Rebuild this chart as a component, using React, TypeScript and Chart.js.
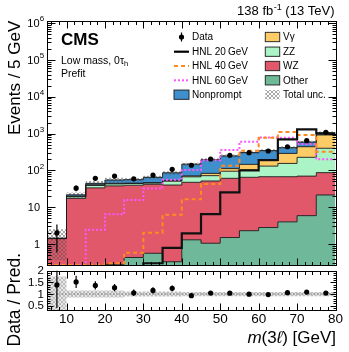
import React, { useEffect, useRef } from "react";
import { Chart, registerables } from "chart.js";

Chart.register(...registerables);

// ---- data: m(3l) bins, 5 GeV wide ----
const binLow = [5, 10, 15, 20, 25, 30, 35, 40, 45, 50, 55, 60, 65, 70, 75];
const binHigh = 80;
const binWidth = 5;

const dataObs = [2, 33, 61, 70, 59, 75, 107, 138, 204, 257, 303, 337, 440, 641, 1085];

// stacked backgrounds (bottom -> top)
const bkgOther = [0.05, 0.1, 0.15, 0.28, 0.43, 0.56, 0.33, 1.3, 1.05, 1.5, 2.3, 2.8, 4.0, 5.9, 21.5];
const bkgWZ = [1.35, 17.3, 33.4, 37.7, 39.1, 41.4, 39.7, 46.2, 50.5, 59.5, 62.7, 64.7, 63.5, 64.1, 65.5];
const bkgZZ = [0.01, 1.9, 5.5, 5.0, 4.5, 3.5, 11, 19.5, 20.5, 34, 38, 63.5, 87.5, 157, 313];
const bkgVgamma = [0.01, 0.5, 1.5, 1.5, 1.0, 1.0, 1.5, 4, 11, 17, 43, 52, 135, 213, 518];
const bkgNonprompt = [0.02, 1.9, 4.0, 10.5, 11, 18.5, 33.5, 77, 113, 136, 159, 162, 125, 150, 122];

// relative total uncertainty
const relUnc = [0.75, 0.15, 0.15, 0.15, 0.11, 0.11, 0.11, 0.09, 0.09, 0.09, 0.09, 0.09, 0.09, 0.09, 0.09];

// signals
const hnl20 = [0.1, 0.1, 0.1, 0.1, 0.1, 0.3, 0.79, 1.95, 6.5, 25.4, 100, 192, 700, 1300, 1010];
const hnl40 = [0.27, 0.27, 0.27, 0.3, 0.58, 2.03, 6.2, 16.4, 43, 133, 343, 770, 1100, 918, 320];
const hnl60 = [0.27, 0.27, 2.45, 6.45, 15.6, 32, 56, 102, 188, 358, 600, 780, 775, 520, 200];

// tick labels
const xTickLabels = [10, 20, 30, 40, 50, 60, 70, 80];
const yMainExponents = [0, 1, 2, 3, 4, 5, 6];
const ratioTickLabels = [0.5, 1, 1.5, 2];

// ---- styles ----
const FF = '"Liberation Sans", Arial, Helvetica, sans-serif';
const colOther = "#6fb99a";
const colWZ = "#e0586a";
const colZZ = "#aaf4c6";
const colVg = "#fecc66";
const colNP = "#3f8fcc";
const colH40 = "#ff8a1f";
const colH60 = "#ff55ff";
const edge = "rgba(25,25,25,0.9)";

const W = 349;
const H = 352;
const PL = 47.3;
const PR = 335.5;
const MT = 20.7;
const MB = 265.3;
const RT = 270.7;
const RB = 310.4;

const stepPts = (v: number[]) =>
  binLow.map((x, i) => ({ x, y: v[i] })).concat([{ x: binHigh, y: v[v.length - 1] }]);
const centers = binLow.map((x) => x + binWidth / 2);

function makeHatch(ctx: CanvasRenderingContext2D, bg: string | null, fg: string) {
  const c = document.createElement("canvas");
  c.width = 4;
  c.height = 4;
  const g = c.getContext("2d")!;
  if (bg) {
    g.fillStyle = bg;
    g.fillRect(0, 0, 4, 4);
  }
  g.fillStyle = fg;
  for (let i = 0; i < 4; i++) {
    g.fillRect(i, i, 1, 1);
    g.fillRect(3 - i, i, 1, 1);
  }
  return ctx.createPattern(c, "repeat")!;
}

function line(ctx: CanvasRenderingContext2D, x1: number, y1: number, x2: number, y2: number) {
  ctx.beginPath();
  ctx.moveTo(x1, y1);
  ctx.lineTo(x2, y2);
  ctx.stroke();
}

function drawRotated(ctx: CanvasRenderingContext2D, text: string, xb: number, yEnd: number, font: string) {
  ctx.save();
  ctx.translate(xb, yEnd);
  ctx.rotate(-Math.PI / 2);
  ctx.font = font;
  ctx.textAlign = "right";
  ctx.textBaseline = "alphabetic";
  ctx.fillStyle = "#000";
  ctx.fillText(text, 0, 0);
  ctx.restore();
}

function snap(v: number) {
  return Math.round(v) + 0.5;
}

export default function App() {
  const mainRef = useRef<HTMLCanvasElement>(null);
  const ratioRef = useRef<HTMLCanvasElement>(null);

  useEffect(() => {
    const mc = mainRef.current!;
    const rc = ratioRef.current!;
    const mctx = mc.getContext("2d")!;
    const rctx = rc.getContext("2d")!;
    const hatch = makeHatch(mctx, null, "rgba(80,80,80,0.5)");
    const hatchR = makeHatch(rctx, "rgba(200,200,200,0.45)", "rgba(140,140,140,0.45)");

    // cumulative stack table for the library
    const layers = [bkgOther, bkgWZ, bkgZZ, bkgVgamma, bkgNonprompt];
    const layerCols = [colOther, colWZ, colZZ, colVg, colNP];
    const cum: number[][] = [];
    layers.forEach((l, k) => {
      cum.push(l.map((v, i) => v + (k > 0 ? cum[k - 1][i] : 0)));
    });
    const total = cum[cum.length - 1];
    const uncLo = total.map((t, i) => t * (1 - relUnc[i]));
    const uncHi = total.map((t, i) => t * (1 + relUnc[i]));

    const stackSets: any[] = cum.map((c, k) => ({
      label: "stack" + k,
      data: stepPts(c),
      stepped: "before",
      borderColor: edge,
      borderWidth: 1,
      backgroundColor: layerCols[k],
      fill: k === 0 ? "start" : k - 1,
      pointRadius: 0,
      order: 15 - k,
    }));

    const mainDecor = {
      id: "mainDecor",
      afterDatasetsDraw(chart: any) {
        const { ctx, chartArea: a, scales } = chart;
        const x = scales.x;
        const y = scales.y;
        ctx.save();
        ctx.beginPath();
        ctx.rect(a.left, a.top, a.right - a.left, a.bottom - a.top);
        ctx.clip();
        ctx.strokeStyle = "#000";
        ctx.lineWidth = 1.2;
        dataObs.forEach((n, i) => {
          const e = Math.sqrt(n);
          const px = x.getPixelForValue(centers[i]);
          const lo = Math.max(n - e, y.min);
          line(ctx, px, y.getPixelForValue(lo), px, y.getPixelForValue(n + e));
        });
        ctx.restore();
      },
      afterDraw(chart: any) {
        const { ctx, chartArea: a, scales } = chart;
        const x = scales.x;
        const y = scales.y;
        ctx.save();
        ctx.strokeStyle = "#000";
        ctx.lineWidth = 1;
        const L = snap(a.left);
        const R = snap(a.right);
        const T = snap(a.top);
        const B = snap(a.bottom);
        ctx.strokeRect(L, T, R - L, B - T);
        // y ticks (log)
        for (let e = -1; e <= 6; e++) {
          for (let m = 1; m <= 9; m++) {
            const v = m * Math.pow(10, e);
            if (v < y.min || v > y.max) continue;
            const py = snap(y.getPixelForValue(v));
            const len = m === 1 ? 8 : 4;
            line(ctx, L, py, L + len, py);
            line(ctx, R, py, R - len, py);
          }
        }
        // x ticks
        for (let g = 6; g <= 80; g += 2) {
          const px = snap(x.getPixelForValue(g));
          const len = g % 10 === 0 ? 7 : 3.5;
          line(ctx, px, B, px, B - len);
          line(ctx, px, T, px, T + len);
        }
        // y labels
        ctx.fillStyle = "#000";
        ctx.textBaseline = "middle";
        yMainExponents.forEach((ex) => {
          const py = y.getPixelForValue(Math.pow(10, ex)) + 0.5;
          if (ex <= 1) {
            ctx.font = `11px ${FF}`;
            ctx.textAlign = "right";
            ctx.fillText(ex === 0 ? "1" : "10", 40, py);
          } else {
            ctx.font = `11px ${FF}`;
            ctx.textAlign = "right";
            ctx.fillText("10", 39.5, py);
            ctx.font = `8px ${FF}`;
            ctx.textAlign = "left";
            ctx.fillText(String(ex), 39.8, py - 4.5);
          }
        });
        // y title
        drawRotated(ctx, "Events / 5 GeV", 20, a.top, `17px ${FF}`);
        // lumi
        ctx.textBaseline = "alphabetic";
        ctx.textAlign = "left";
        const f13 = `13px ${FF}`;
        const f9 = `9px ${FF}`;
        ctx.font = f13;
        const t1 = "138 fb";
        const t3 = " (13 TeV)";
        const w1 = ctx.measureText(t1).width;
        const w3 = ctx.measureText(t3).width;
        ctx.font = f9;
        const t2 = "-1";
        const w2 = ctx.measureText(t2).width;
        let sx = 334 - (w1 + w2 + w3);
        ctx.font = f13;
        ctx.fillText(t1, sx, 15);
        ctx.font = f9;
        ctx.fillText(t2, sx + w1 + 0.5, 9.5);
        ctx.font = f13;
        ctx.fillText(t3, sx + w1 + w2 + 0.5, 15);
        // CMS
        ctx.font = `bold 17px ${FF}`;
        ctx.fillText("CMS", 61, 45);
        ctx.font = `10.5px ${FF}`;
        const lm = "Low mass, 0\u03c4";
        ctx.fillText(lm, 61, 63.5);
        const lmw = ctx.measureText(lm).width;
        ctx.font = `7.5px ${FF}`;
        ctx.fillText("h", 61 + lmw, 66);
        ctx.font = `10.5px ${FF}`;
        ctx.fillText("Prefit", 61, 77.3);

        // legend
        const rows = [37, 51.7, 66, 80.3, 94.7];
        const c1a = 174,
          c1b = 189,
          c1t = 192;
        const c2a = 265.3,
          c2b = 279.7,
          c2t = 283;
        const bh = 9.3;
        ctx.font = `10px ${FF}`;
        ctx.textBaseline = "middle";
        const text = (s: string, tx: number, ty: number) => {
          ctx.fillStyle = "#000";
          ctx.fillText(s, tx, ty + 0.5);
        };
        // Data
        ctx.strokeStyle = "#000";
        ctx.lineWidth = 1.2;
        line(ctx, 181.5, rows[0] - 4.5, 181.5, rows[0] + 4.5);
        ctx.beginPath();
        ctx.arc(181.5, rows[0], 2.6, 0, Math.PI * 2);
        ctx.fillStyle = "#000";
        ctx.fill();
        text("Data", c1t, rows[0]);
        // HNL lines
        const hl = (r: number, col: string, dash: number[], lw: number, label: string) => {
          ctx.save();
          ctx.strokeStyle = col;
          ctx.lineWidth = lw;
          ctx.setLineDash(dash);
          line(ctx, c1a, rows[r], c1b, rows[r]);
          ctx.restore();
          text(label, c1t, rows[r]);
        };
        hl(1, "#000", [], 2.2, "HNL 20\u2009GeV");
        hl(2, colH40, [4, 3], 2, "HNL 40\u2009GeV");
        hl(3, colH60, [2, 2], 2, "HNL 60\u2009GeV");
        const box = (bx0: number, bx1: number, r: number, col: any, border: boolean) => {
          ctx.fillStyle = col;
          ctx.fillRect(bx0, rows[r] - bh / 2, bx1 - bx0, bh);
          if (border) {
            ctx.strokeStyle = edge;
            ctx.lineWidth = 1;
            ctx.strokeRect(bx0, rows[r] - bh / 2, bx1 - bx0, bh);
          }
        };
        box(c1a, c1b, 4, colNP, true);
        text("Nonprompt", c1t, rows[4]);
        box(c2a, c2b, 0, colVg, true);
        text("V\u03b3", c2t, rows[0]);
        box(c2a, c2b, 1, colZZ, true);
        text("ZZ", c2t, rows[1]);
        box(c2a, c2b, 2, colWZ, true);
        text("WZ", c2t, rows[2]);
        box(c2a, c2b, 3, colOther, true);
        text("Other", c2t, rows[3]);
        box(c2a, c2b, 4, hatch, false);
        text("Total unc.", c2t, rows[4]);
        ctx.restore();
      },
    };

    const main = new Chart(mc, {
      type: "line",
      data: {
        datasets: [
          ...stackSets,
          {
            label: "uncLo",
            data: stepPts(uncLo),
            stepped: "before",
            borderWidth: 0,
            borderColor: "rgba(0,0,0,0)",
            fill: false,
            pointRadius: 0,
            order: 6,
          },
          {
            label: "uncHi",
            data: stepPts(uncHi),
            stepped: "before",
            borderWidth: 0,
            borderColor: "rgba(0,0,0,0)",
            backgroundColor: hatch,
            fill: 5,
            pointRadius: 0,
            order: 5,
          },
          {
            label: "HNL 20 GeV",
            data: stepPts(hnl20),
            stepped: "before",
            borderColor: "#111",
            borderWidth: 2.2,
            fill: false,
            pointRadius: 0,
            order: 2,
          },
          {
            label: "HNL 40 GeV",
            data: stepPts(hnl40),
            stepped: "before",
            borderColor: colH40,
            borderDash: [4, 3],
            borderWidth: 2,
            fill: false,
            pointRadius: 0,
            order: 2,
          },
          {
            label: "HNL 60 GeV",
            data: stepPts(hnl60),
            stepped: "before",
            borderColor: colH60,
            borderDash: [2, 2],
            borderWidth: 2,
            fill: false,
            pointRadius: 0,
            order: 2,
          },
          {
            label: "Data",
            data: centers.map((x, i) => ({ x, y: dataObs[i] })),
            showLine: false,
            pointRadius: 2.6,
            pointBackgroundColor: "#000",
            pointBorderWidth: 0,
            order: 1,
          },
        ],
      },
      options: {
        animation: false,
        responsive: false,
        devicePixelRatio: 1,
        events: [],
        layout: { padding: { left: PL, right: W - PR, top: MT, bottom: H - MB } },
        plugins: {
          legend: { display: false },
          tooltip: { enabled: false },
          filler: { drawTime: "beforeDatasetsDraw" },
        },
        scales: {
          x: { type: "linear", min: 5, max: 80, display: false },
          y: { type: "logarithmic", min: 0.264, max: 1.17e6, display: false },
        },
      } as any,
      plugins: [mainDecor],
    });

    // ---- ratio panel ----
    const ratio = dataObs.map((n, i) => n / total[i]);
    const ratioErr = dataObs.map((n, i) => Math.sqrt(n) / total[i]);

    const ratioDecor = {
      id: "ratioDecor",
      afterDatasetsDraw(chart: any) {
        const { ctx, chartArea: a, scales } = chart;
        const x = scales.x;
        const y = scales.y;
        ctx.save();
        ctx.beginPath();
        ctx.rect(a.left, a.top, a.right - a.left, a.bottom - a.top);
        ctx.clip();
        ctx.strokeStyle = "#000";
        ctx.lineWidth = 1.2;
        ratio.forEach((r, i) => {
          const px = x.getPixelForValue(centers[i]);
          line(ctx, px, y.getPixelForValue(r - ratioErr[i]), px, y.getPixelForValue(r + ratioErr[i]));
        });
        ctx.restore();
      },
      afterDraw(chart: any) {
        const { ctx, chartArea: a, scales } = chart;
        const x = scales.x;
        const y = scales.y;
        ctx.save();
        ctx.strokeStyle = "#000";
        ctx.lineWidth = 1;
        const L = snap(a.left);
        const R = snap(a.right);
        const T = snap(a.top);
        const B = snap(a.bottom);
        ctx.strokeRect(L, T, R - L, B - T);
        for (let k = 3; k <= 20; k++) {
          const v = k / 10;
          const py = snap(y.getPixelForValue(v));
          const len = k % 5 === 0 ? 6 : 3;
          line(ctx, L, py, L + len, py);
          line(ctx, R, py, R - len, py);
        }
        for (let g = 6; g <= 80; g += 2) {
          const px = snap(x.getPixelForValue(g));
          const len = g % 10 === 0 ? 7 : 3.5;
          line(ctx, px, B, px, B - len);
          line(ctx, px, T, px, T + len);
        }
        ctx.fillStyle = "#000";
        ctx.font = `11.5px ${FF}`;
        ctx.textAlign = "right";
        ctx.textBaseline = "middle";
        ratioTickLabels.forEach((v) => {
          ctx.fillText(String(v), 44, y.getPixelForValue(v) + 0.5);
        });
        ctx.font = `13.5px ${FF}`;
        ctx.textAlign = "center";
        ctx.textBaseline = "alphabetic";
        xTickLabels.forEach((v) => {
          ctx.fillText(String(v), x.getPixelForValue(v), 323);
        });
        // x title
        const parts = [
          { t: "m", it: true },
          { t: "(3", it: false },
          { t: "\u2113", it: true },
          { t: ") [GeV]", it: false },
        ];
        const fN = `17px ${FF}`;
        const fI = `italic 17px ${FF}`;
        let tw = 0;
        parts.forEach((p) => {
          ctx.font = p.it ? fI : fN;
          tw += ctx.measureText(p.t).width;
        });
        let px0 = 336 - tw;
        ctx.textAlign = "left";
        parts.forEach((p) => {
          ctx.font = p.it ? fI : fN;
          ctx.fillText(p.t, px0, 342.5);
          px0 += ctx.measureText(p.t).width;
        });
        drawRotated(ctx, "Data / Pred.", 20, 253, `17.5px ${FF}`);
        ctx.restore();
      },
    };

    const rchart = new Chart(rc, {
      type: "line",
      data: {
        datasets: [
          {
            label: "bandLo",
            data: stepPts(relUnc.map((u) => 1 - u)),
            stepped: "before",
            borderWidth: 0,
            borderColor: "rgba(0,0,0,0)",
            fill: false,
            pointRadius: 0,
            order: 6,
          },
          {
            label: "bandHi",
            data: stepPts(relUnc.map((u) => 1 + u)),
            stepped: "before",
            borderWidth: 0,
            borderColor: "rgba(0,0,0,0)",
            backgroundColor: hatchR,
            fill: 0,
            pointRadius: 0,
            order: 5,
          },
          {
            label: "unity",
            data: [
              { x: 5, y: 1 },
              { x: 80, y: 1 },
            ],
            borderColor: "#555",
            borderWidth: 1,
            borderDash: [1, 2],
            fill: false,
            pointRadius: 0,
            order: 3,
          },
          {
            label: "ratio",
            data: centers.map((x, i) => ({ x, y: ratio[i] })),
            showLine: false,
            pointRadius: 2.6,
            pointBackgroundColor: "#000",
            pointBorderWidth: 0,
            order: 1,
          },
        ],
      },
      options: {
        animation: false,
        responsive: false,
        devicePixelRatio: 1,
        events: [],
        layout: { padding: { left: PL, right: W - PR, top: RT, bottom: H - RB } },
        plugins: {
          legend: { display: false },
          tooltip: { enabled: false },
        },
        scales: {
          x: { type: "linear", min: 5, max: 80, display: false },
          y: { type: "linear", min: 0.3, max: 2.0, display: false },
        },
      } as any,
      plugins: [ratioDecor],
    });

    return () => {
      main.destroy();
      rchart.destroy();
    };
  }, []);

  const cs: React.CSSProperties = { position: "absolute", left: 0, top: 0, width: W, height: H };
  return (
    <div style={{ position: "absolute", left: 0, top: 0, width: W, height: H, background: "#fff" }}>
      <canvas ref={mainRef} width={W} height={H} style={cs} />
      <canvas ref={ratioRef} width={W} height={H} style={cs} />
    </div>
  );
}
